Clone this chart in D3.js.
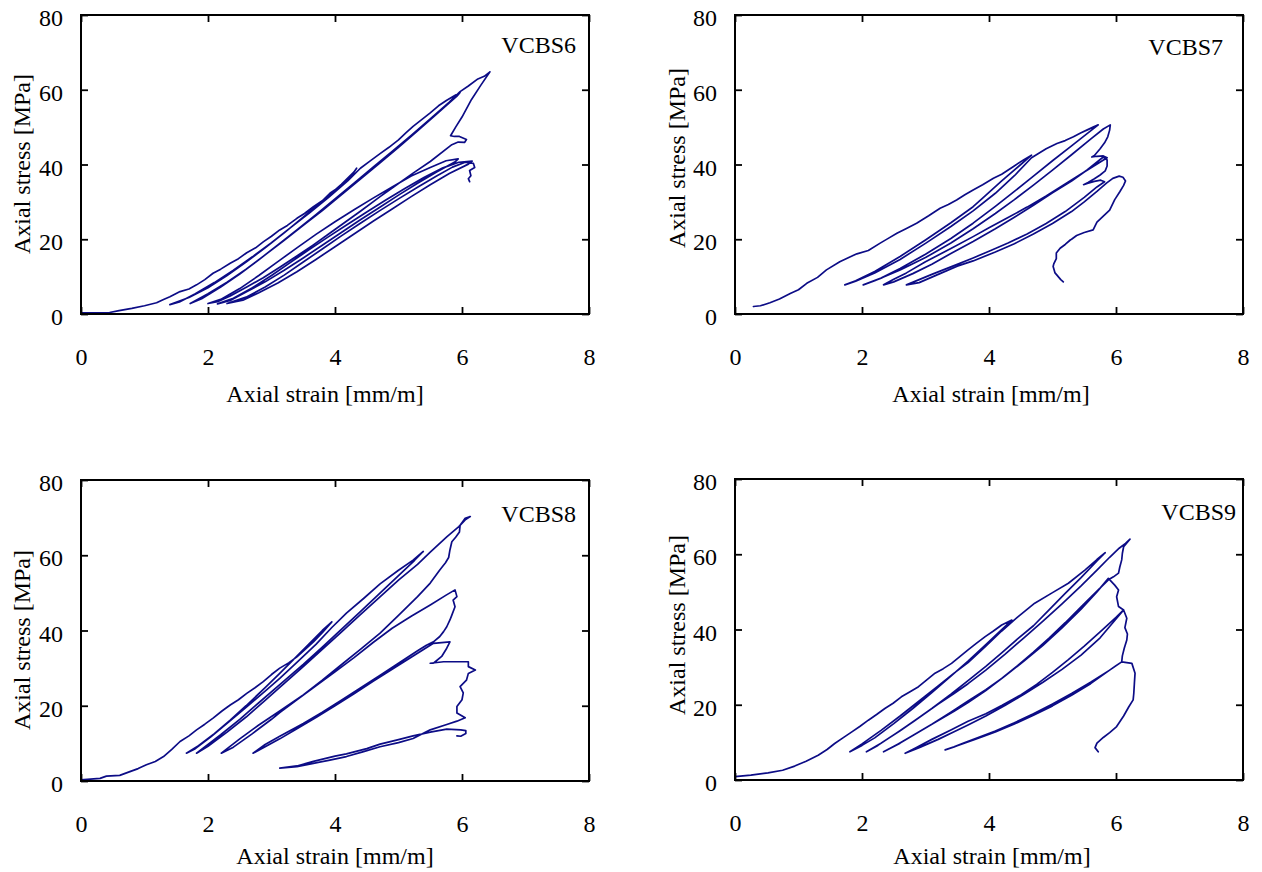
<!DOCTYPE html>
<html>
<head>
<meta charset="utf-8">
<script src="https://cdn.jsdelivr.net/npm/d3@7"></script>
<style>
  html, body { margin: 0; padding: 0; background: #fff; }
  svg text { font-family: "Liberation Serif", "Times New Roman", serif; fill: #000; }
</style>
</head>
<body>
<svg id="chart" width="1262" height="872"></svg>
<script>
// Axis ticks and titles shared by all four panels
const xTicks = [0, 2, 4, 6, 8];
const yTicks = [0, 20, 40, 60, 80];
const xTitle = "Axial strain [mm/m]";
const yTitle = "Axial stress [MPa]";

// Cyclic compression records, [strain (mm/m), stress (MPa)] in test order
const vcbs6 = [
  // first loading
  [0.00,0.3],[0.20,0.3],[0.45,0.4],[0.60,0.9],[0.80,1.5],[1.00,2.2],[1.19,3.0],[1.30,3.9],[1.40,4.6],[1.56,6.0],[1.70,6.7],[1.82,7.8],[1.95,9.2],[2.08,10.9],[2.20,12.0],[2.35,13.6],[2.48,14.8],[2.61,16.4],[2.75,17.7],[2.87,19.3],[3.00,20.8],[3.13,22.5],[3.25,23.7],[3.40,25.6],[3.52,26.9],[3.66,28.7],[3.80,30.3],[3.92,32.3],[4.05,33.8],[4.18,35.7],[4.28,37.5],[4.34,39.0],
  // unload
  [4.30,38.0],[4.10,34.7],[3.80,30.2],[3.50,25.9],[3.20,21.7],[2.90,17.7],[2.60,13.9],[2.30,10.3],[2.00,7.0],[1.70,4.4],[1.40,2.5],
  // reload
  [1.55,3.2],[1.80,5.4],[2.10,8.4],[2.40,11.7],[2.70,15.3],[3.00,19.1],[3.30,23.1],[3.60,27.1],[3.90,31.2],[4.20,35.6],[4.40,39.0],[4.55,40.9],[4.71,42.9],[4.85,44.6],[5.00,46.6],[5.12,48.5],[5.23,50.2],[5.38,52.2],[5.50,53.8],[5.63,55.7],[5.76,57.2],[5.88,58.4],[5.97,59.3],
  // unload
  [5.92,58.3],[5.60,53.5],[5.30,49.0],[5.00,44.6],[4.70,40.3],[4.40,36.1],[4.10,31.9],[3.80,27.7],[3.50,23.7],[3.20,19.7],[2.90,15.8],[2.60,12.0],[2.30,8.5],[2.00,5.4],[1.72,2.8],
  // reload to peak
  [1.90,4.1],[2.20,7.2],[2.50,10.7],[2.80,14.5],[3.10,18.5],[3.40,22.5],[3.70,26.6],[4.00,30.8],[4.30,35.0],[4.60,39.3],[4.90,43.5],[5.20,47.8],[5.50,52.2],[5.80,56.7],[5.97,59.5],[6.10,61.0],[6.25,62.9],[6.35,63.6],[6.44,64.8],
  // drop after peak
  [6.30,61.3],[6.15,57.4],[6.00,52.7],[5.90,50.0],[5.82,47.7],[5.88,47.5],[5.96,47.5],[6.07,46.7],[6.04,45.9],[5.94,46.0],[5.84,45.3],
  // unload
  [5.50,40.8],[5.23,37.7],[4.90,33.7],[4.71,31.4],[4.40,27.5],[4.18,24.8],[3.90,21.4],[3.66,18.5],[3.40,15.5],[3.13,12.5],[2.87,9.7],[2.61,7.2],[2.35,4.8],[2.15,3.3],[2.00,2.8],
  // post-peak cycles
  [2.20,3.9],[2.50,6.8],[2.80,10.3],[3.10,14.0],[3.40,17.7],[3.70,21.3],[4.00,24.7],[4.30,27.9],[4.60,31.0],[4.90,34.0],[5.20,36.9],[5.50,39.2],[5.75,41.0],[5.94,41.5],
  [5.90,40.8],[5.60,38.0],[5.30,35.0],[5.00,31.8],[4.70,28.5],[4.40,25.2],[4.10,21.8],[3.80,18.4],[3.50,15.0],[3.20,11.7],[2.90,8.6],[2.60,5.9],[2.35,3.6],[2.15,2.7],
  [2.40,4.2],[2.70,7.0],[3.00,10.3],[3.30,13.8],[3.60,17.3],[3.90,20.7],[4.20,24.0],[4.50,27.3],[4.80,30.5],[5.10,33.6],[5.40,36.5],[5.70,39.1],[5.95,40.6],[6.16,40.9],
  [6.10,40.1],[5.80,37.6],[5.50,34.6],[5.20,31.4],[4.90,28.1],[4.60,24.8],[4.30,21.4],[4.00,18.0],[3.70,14.6],[3.40,11.3],[3.10,8.3],[2.80,5.7],[2.55,3.7],[2.30,2.8],
  [2.60,4.5],[2.90,7.2],[3.20,10.4],[3.50,13.9],[3.80,17.4],[4.10,20.9],[4.40,24.3],[4.70,27.6],[5.00,30.8],[5.30,33.9],[5.60,36.9],[5.85,39.3],[6.05,40.6],[6.18,40.3],[6.20,39.2],[6.12,38.4],[6.14,37.0],[6.10,36.2],[6.12,35.4]
];

const vcbs7 = [
  // first loading
  [0.29,2.0],[0.40,2.2],[0.55,3.0],[0.70,4.0],[0.87,5.5],[1.00,6.5],[1.13,8.2],[1.30,9.8],[1.44,11.8],[1.65,14.0],[1.80,15.2],[1.92,16.1],[2.10,17.0],[2.28,18.9],[2.42,20.3],[2.55,21.6],[2.70,22.9],[2.86,24.3],[3.05,26.3],[3.23,28.3],[3.36,29.3],[3.49,30.5],[3.62,31.9],[3.75,33.2],[3.90,34.6],[4.07,36.3],[4.20,37.4],[4.38,39.4],[4.55,41.3],[4.67,42.5],
  // unload
  [4.50,40.0],[4.20,35.6],[3.90,31.0],[3.75,28.7],[3.40,24.4],[3.00,19.8],[2.60,15.4],[2.20,11.4],[1.90,8.9],[1.73,7.8],
  // reload
  [1.90,8.8],[2.20,11.0],[2.60,14.6],[3.00,18.9],[3.40,23.4],[3.75,27.6],[4.10,32.3],[4.40,37.0],[4.67,41.8],[4.90,44.2],[5.07,45.6],[5.20,46.4],[5.33,47.4],[5.45,48.5],[5.54,49.2],[5.64,50.0],[5.72,50.6],
  // unload
  [5.60,49.0],[5.30,45.0],[5.00,41.0],[4.70,36.9],[4.40,32.8],[4.10,28.8],[3.75,24.3],[3.40,20.2],[3.00,16.0],[2.60,12.2],[2.30,9.6],[2.02,7.8],
  // reload to peak
  [2.20,8.9],[2.60,11.8],[3.00,15.1],[3.40,19.0],[3.75,22.8],[4.10,26.9],[4.40,30.6],[4.70,34.5],[5.00,38.5],[5.30,42.6],[5.60,46.8],[5.80,49.5],[5.91,50.6],
  // softening
  [5.90,49.2],[5.87,47.4],[5.82,45.8],[5.75,44.2],[5.66,42.4],[5.62,42.0],[5.70,42.2],[5.80,42.3],[5.86,41.8],
  // unload
  [5.50,38.0],[5.20,34.8],[4.90,31.6],[4.60,28.6],[4.30,25.8],[4.00,23.1],[3.75,20.7],[3.40,17.5],[3.00,14.0],[2.70,11.0],[2.50,9.3],[2.34,7.8],
  // reload
  [2.50,8.6],[2.80,10.8],[3.10,13.3],[3.40,16.2],[3.75,19.4],[4.10,22.8],[4.40,25.9],[4.70,29.1],[5.00,32.4],[5.30,35.6],[5.55,38.6],[5.80,42.0],[5.86,41.2],[5.86,39.6],[5.83,38.3],[5.75,37.2],[5.66,36.2],[5.56,35.2],[5.49,34.6],[5.56,35.0],[5.66,35.5],[5.76,35.8],[5.82,35.4],
  // unload
  [5.70,34.0],[5.50,31.2],[5.20,27.4],[4.90,24.2],[4.60,21.4],[4.30,19.0],[4.00,16.8],[3.75,15.0],[3.40,12.6],[3.10,10.6],[2.90,9.2],[2.70,7.8],
  // reload and final softening
  [2.90,8.4],[3.20,10.6],[3.50,12.8],[3.75,14.2],[4.10,16.6],[4.40,18.8],[4.70,21.4],[5.00,24.2],[5.30,27.4],[5.50,30.0],[5.70,32.8],[5.85,35.0],[5.95,36.3],[6.05,36.9],[6.11,36.6],[6.15,35.6],[6.12,34.4],[6.06,32.7],[5.98,30.6],[5.90,27.8],[5.80,26.2],[5.70,24.6],[5.64,22.5],[5.50,21.8],[5.38,21.0],[5.30,20.0],[5.28,19.8],[5.20,18.6],[5.12,17.6],[5.06,16.3],[5.06,14.8],[5.02,13.4],[5.01,12.7],[5.04,11.0],[5.09,10.0],[5.13,9.2],[5.17,8.6]
];

const vcbs8 = [
  // first loading
  [0.00,0.3],[0.30,0.7],[0.40,1.3],[0.61,1.5],[0.77,2.5],[0.90,3.3],[1.03,4.3],[1.17,5.2],[1.30,6.5],[1.43,8.4],[1.56,10.5],[1.70,12.0],[1.82,13.6],[1.95,15.1],[2.08,16.7],[2.22,18.6],[2.35,20.2],[2.48,21.6],[2.61,23.3],[2.74,24.8],[2.87,26.4],[3.00,28.3],[3.13,30.0],[3.27,31.4],[3.40,33.0],[3.53,35.0],[3.66,37.0],[3.80,39.4],[3.95,42.3],
  // unload
  [3.80,40.0],[3.60,36.6],[3.40,33.2],[3.13,28.6],[2.90,24.8],[2.60,20.0],[2.35,16.2],[2.10,12.6],[1.85,9.4],[1.66,7.4],
  // reload
  [1.80,8.6],[2.05,11.8],[2.30,15.3],[2.60,19.6],[2.90,23.9],[3.13,27.3],[3.40,31.5],[3.70,36.3],[3.95,40.8],[4.18,44.6],[4.45,48.5],[4.71,52.4],[5.00,56.0],[5.23,58.7],[5.39,61.0],
  // unload
  [5.25,58.6],[5.00,54.6],[4.70,49.8],[4.40,45.0],[4.10,40.3],[3.80,35.6],[3.50,31.0],[3.13,25.6],[2.80,20.8],[2.50,16.4],[2.20,12.3],[2.00,9.7],[1.82,7.4],
  // reload to peak
  [2.00,9.2],[2.30,13.0],[2.60,17.0],[2.90,21.4],[3.13,24.9],[3.50,30.4],[3.80,35.0],[4.10,39.6],[4.40,44.2],[4.70,48.8],[5.00,53.4],[5.30,57.6],[5.50,60.8],[5.76,64.9],[5.95,67.6],[6.05,69.4],[6.13,70.3],
  // softening and unload
  [6.05,69.8],[5.97,68.0],[5.96,66.2],[5.90,64.8],[5.84,63.6],[5.81,61.4],[5.79,59.4],[5.74,58.0],[5.65,56.1],[5.50,52.6],[5.30,49.0],[5.00,44.0],[4.71,39.3],[4.40,35.0],[4.10,30.9],[3.80,26.8],[3.50,22.9],[3.13,18.6],[2.80,14.9],[2.50,11.2],[2.21,7.4],
  // reload
  [2.40,9.0],[2.70,12.6],[3.00,16.4],[3.13,18.2],[3.40,21.6],[3.70,25.3],[4.00,29.0],[4.30,32.8],[4.60,36.8],[4.90,40.6],[5.20,43.8],[5.50,46.8],[5.75,49.4],[5.89,50.8],
  [5.92,49.0],[5.86,48.1],[5.89,46.3],[5.84,44.1],[5.81,42.8],[5.76,41.0],[5.71,39.7],[5.65,38.4],[5.55,37.0],[5.44,36.1],
  // unload
  [5.30,34.6],[5.00,31.3],[4.70,28.0],[4.40,24.7],[4.10,21.5],[3.80,18.3],[3.50,15.3],[3.13,11.9],[2.90,9.7],[2.71,7.4],
  // reload
  [2.90,9.1],[3.13,11.2],[3.40,13.9],[3.70,16.9],[4.00,20.0],[4.30,23.2],[4.60,26.5],[4.90,29.7],[5.20,32.9],[5.55,36.6],[5.81,37.0],[5.76,35.3],[5.68,33.1],[5.55,31.3],[5.50,31.3],[5.71,31.7],[6.10,31.7],[6.10,30.4],[6.21,29.5],[6.10,28.6],[6.07,26.8],[5.97,25.1],[6.02,23.4],[6.00,21.6],[5.92,19.8],[5.92,18.1],[6.05,16.8],[5.92,15.9],[5.76,15.0],
  // unload
  [5.50,13.6],[5.23,11.3],[5.00,10.2],[4.71,9.1],[4.45,7.8],[4.18,6.5],[3.90,5.5],[3.66,4.7],[3.40,3.8],[3.13,3.4],
  // reload
  [3.40,4.0],[3.66,5.2],[4.00,6.6],[4.18,7.2],[4.50,8.6],[4.71,9.8],[5.00,11.0],[5.23,12.0],[5.50,13.0],[5.76,13.8],[5.98,13.6],[6.06,13.4],[6.06,12.6],[5.98,11.9],[5.92,12.0]
];

const vcbs9 = [
  // first loading
  [0.00,0.9],[0.25,1.3],[0.52,1.9],[0.75,2.6],[0.94,3.7],[1.12,5.0],[1.31,6.6],[1.45,8.1],[1.57,9.7],[1.70,11.2],[1.84,12.8],[1.97,14.3],[2.10,15.9],[2.23,17.4],[2.36,19.0],[2.49,20.4],[2.62,22.1],[2.75,23.4],[2.89,24.8],[3.02,26.6],[3.15,28.4],[3.28,29.6],[3.41,31.0],[3.54,32.8],[3.67,34.6],[3.80,36.3],[3.94,38.1],[4.07,39.6],[4.20,41.2],[4.36,42.5],
  // unload
  [4.20,40.0],[3.95,36.0],[3.67,31.6],[3.40,27.6],[3.10,23.2],[2.80,19.0],[2.50,15.0],[2.20,11.2],[2.00,9.2],[1.81,7.5],
  // reload
  [2.00,9.6],[2.30,13.2],[2.60,17.0],[2.90,21.0],[3.20,25.0],[3.45,28.4],[3.67,31.2],[3.95,35.6],[4.20,39.6],[4.45,43.3],[4.72,47.0],[5.00,49.8],[5.25,52.3],[5.51,55.8],[5.70,58.6],[5.83,60.4],
  // unload
  [5.70,58.2],[5.45,53.8],[5.20,49.6],[4.95,45.3],[4.70,41.0],[4.45,37.5],[4.20,33.8],[3.95,30.2],[3.67,26.4],[3.40,22.8],[3.10,19.0],[2.80,15.4],[2.50,12.0],[2.25,9.2],[2.07,7.5],
  // reload to peak
  [2.30,9.8],[2.60,13.1],[2.90,16.6],[3.20,20.2],[3.45,23.0],[3.67,25.6],[3.95,29.2],[4.25,33.4],[4.55,37.8],[4.85,42.2],[5.15,46.8],[5.45,51.6],[5.70,55.8],[5.90,59.2],[6.05,61.6],[6.15,62.9],[6.22,64.0],
  // softening
  [6.12,62.0],[6.10,60.2],[6.09,58.5],[6.06,56.6],[6.04,55.0],[5.96,54.0],[5.88,53.2],
  // unload
  [5.70,50.2],[5.45,46.0],[5.20,41.8],[4.95,37.8],[4.70,34.0],[4.45,30.4],[4.20,27.0],[3.95,24.0],[3.67,21.0],[3.40,18.0],[3.10,14.8],[2.80,11.8],[2.55,9.4],[2.34,7.5],
  // reload
  [2.60,9.8],[2.90,12.8],[3.20,15.8],[3.45,18.3],[3.67,20.6],[3.95,23.8],[4.25,27.6],[4.55,31.6],[4.85,35.8],[5.15,40.4],[5.45,45.4],[5.70,50.0],[5.88,53.6],[5.98,51.8],[6.04,50.5],[6.01,48.7],[6.04,46.1],[6.12,45.2],
  // unload
  [6.00,43.2],[5.75,39.4],[5.50,35.6],[5.25,32.0],[5.00,28.6],[4.75,25.4],[4.50,22.6],[4.20,19.8],[3.95,17.6],[3.67,15.6],[3.40,13.3],[3.10,10.8],[2.85,8.6],[2.68,7.1],
  // reload
  [2.90,8.6],[3.20,10.8],[3.45,12.8],[3.67,14.6],[3.95,17.0],[4.25,19.8],[4.55,22.8],[4.85,26.0],[5.15,29.4],[5.45,33.2],[5.75,37.8],[5.95,41.8],[6.12,45.2],[6.17,43.0],[6.14,40.5],[6.18,38.8],[6.17,37.2],[6.13,35.0],[6.10,33.0],[6.09,31.4],
  // unload
  [5.90,29.2],[5.60,26.0],[5.30,23.0],[5.00,20.2],[4.70,17.6],[4.40,15.2],[4.10,13.0],[3.85,11.4],[3.60,9.8],[3.45,8.8],[3.31,8.0],
  // reload and final softening
  [3.50,9.1],[3.80,10.9],[4.10,12.8],[4.40,14.9],[4.70,17.2],[5.00,19.7],[5.30,22.5],[5.60,25.6],[5.85,28.6],[6.00,30.4],[6.09,31.4],[6.25,31.0],[6.30,28.4],[6.29,25.8],[6.28,23.0],[6.27,21.3],[6.20,19.4],[6.12,17.0],[6.01,14.2],[5.90,12.6],[5.80,11.3],[5.70,9.8],[5.67,8.6],[5.72,7.5]
];

// Panel placement on the page
const panels = [
  { name: "VCBS6", data: vcbs6, left: 81,  top: 15,  width: 508, height: 299, yTitleX: 22,  yTitleY: 164, xTitleX: 325, xTitleY: 402, nameX: 576,  nameY: 53 },
  { name: "VCBS7", data: vcbs7, left: 735, top: 15,  width: 508, height: 299, yTitleX: 677, yTitleY: 158, xTitleX: 991, xTitleY: 402, nameX: 1223, nameY: 55 },
  { name: "VCBS8", data: vcbs8, left: 81,  top: 480, width: 508, height: 301, yTitleX: 22,  yTitleY: 640, xTitleX: 335, xTitleY: 864, nameX: 576,  nameY: 522 },
  { name: "VCBS9", data: vcbs9, left: 735, top: 479, width: 508, height: 301, yTitleX: 677, yTitleY: 625, xTitleX: 992, xTitleY: 864, nameX: 1236, nameY: 520 }
];

const FONT = "'Liberation Serif', 'Times New Roman', serif";
const FS = 24;
const LINE_COLOR = "#0c0c86";
const TICK = 7;

const svg = d3.select("#chart");

function styleAxis(g) {
  g.attr("font-size", FS).attr("font-family", FONT);
  g.select(".domain").remove();
  g.selectAll(".tick line").attr("stroke", "#000").attr("stroke-width", 1.8);
  g.selectAll(".tick text").attr("fill", "#000");
}

panels.forEach(p => {
  const x = d3.scaleLinear().domain([0, 8]).range([p.left, p.left + p.width]);
  const y = d3.scaleLinear().domain([0, 80]).range([p.top + p.height, p.top]);
  const g = svg.append("g").attr("class", "panel");

  // stress-strain record
  const line = d3.line().x(d => x(d[0])).y(d => y(d[1]));
  g.append("path")
    .datum(p.data)
    .attr("d", line)
    .attr("fill", "none")
    .attr("stroke", LINE_COLOR)
    .attr("stroke-width", 1.7)
    .attr("stroke-linejoin", "round")
    .attr("stroke-linecap", "round");

  // inward ticks on all four sides
  g.append("g")
    .attr("transform", `translate(0,${p.top + p.height})`)
    .call(d3.axisBottom(x).tickValues(xTicks).tickSizeInner(-TICK).tickSizeOuter(0).tickPadding(34).tickFormat(d3.format("d")))
    .call(styleAxis);
  g.append("g")
    .attr("transform", `translate(0,${p.top})`)
    .call(d3.axisTop(x).tickValues(xTicks).tickSizeInner(-TICK).tickSizeOuter(0).tickFormat(""))
    .call(styleAxis);
  const yl = g.append("g")
    .attr("transform", `translate(${p.left},0)`)
    .call(d3.axisLeft(y).tickValues(yTicks).tickSizeInner(-TICK).tickSizeOuter(0).tickPadding(18).tickFormat(d3.format("d")))
    .call(styleAxis);
  yl.selectAll(".tick text").attr("dy", "0.44em");
  g.append("g")
    .attr("transform", `translate(${p.left + p.width},0)`)
    .call(d3.axisRight(y).tickValues(yTicks).tickSizeInner(-TICK).tickSizeOuter(0).tickFormat(""))
    .call(styleAxis);

  // plot frame
  g.append("rect")
    .attr("x", p.left).attr("y", p.top)
    .attr("width", p.width).attr("height", p.height)
    .attr("fill", "none").attr("stroke", "#000").attr("stroke-width", 2);

  // axis titles
  g.append("text")
    .attr("x", p.xTitleX).attr("y", p.xTitleY)
    .attr("text-anchor", "middle")
    .attr("font-size", FS)
    .text(xTitle);
  g.append("text")
    .attr("transform", `translate(${p.yTitleX},${p.yTitleY}) rotate(-90)`)
    .attr("text-anchor", "middle")
    .attr("dy", "0.35em")
    .attr("font-size", FS)
    .text(yTitle);

  // specimen name
  g.append("text")
    .attr("x", p.nameX).attr("y", p.nameY)
    .attr("text-anchor", "end")
    .attr("font-size", FS)
    .text(p.name);
});
</script>
</body>
</html>
